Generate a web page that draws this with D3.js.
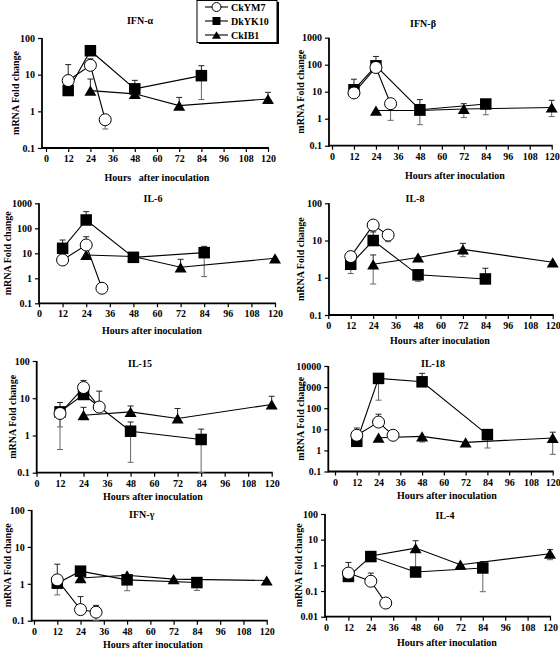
<!DOCTYPE html>
<html><head><meta charset="utf-8">
<script src="https://cdn.jsdelivr.net/npm/d3@7"></script>
<style>
html,body{margin:0;padding:0;background:#fff;}
svg text{font-family:"Liberation Serif","Times New Roman",serif;font-weight:bold;fill:#000;}
</style></head>
<body>
<svg id="c" width="560" height="648"></svg>
<script>
// ---------------- DATA ----------------
const panelTitles = ["IFN-α","IFN-β","IL-6","IL-8","IL-15","IL-18","IFN-γ","IL-4"];
const seriesNames = ["CkYM7","DkYK10","CkIB1"];
const xTicks = [0,12,24,36,48,60,72,84,96,108,120];
const yDomains = [[0.1,100],[0.1,1000],[0.1,1000],[0.1,100],[0.1,100],[0.1,10000],[0.1,100],[0.01,100]];
const yTickLabels = [["0.1","1","10","100"],["0.1","1","10","100","1000"],["0.1","1","10","100","1000"],
  ["0.1","1","10","100"],["0.1","1","10","100"],["0.1","1","10","100","1000","10000"],
  ["0.1","1","10","100"],["0.01","0.1","1","10","100"]];
const xLabelText = ["Hours   after inoculation","Hours after inoculation","Hours after inoculation","Hours after inoculation",
  "Hours after inoculation","Hours after inoculation","Hours after inoculation","Hours after inoculation"];

const ckym7Hours = [12,24,32];
const dkyk10Hours = [12,24,48,84];
const ckib1Hours = [24,48,72,120];

const ckym7Values = [[6.9,18,0.59],[9,79,3.6],[5.4,21.5,0.4],[3.7,26,14],[3.9,19.4,5.8],[5.2,22,5.2],[1.28,0.2,0.17],[0.5,0.24,0.034]];
const ckym7ErrHi  = [[18.8,27,null],[null,null,null],[null,46,null],[null,null,null],[null,30,15.5],[11.5,52,null],[3.4,0.45,0.26],[1.3,0.5,null]];
const ckym7ErrLo  = [[null,null,0.33],[null,null,0.87],[null,null,null],[null,null,9.3],[0.42,null,null],[null,null,null],[null,null,0.094],[null,null,null]];

const dkyk10Values = [[3.7,45,4.1,9.4],[11.8,91,2.15,3.5],[15.8,215,6.9,10.6],[2.3,10,1.2,0.93],[4.3,12.6,1.3,0.78],[2.7,2580,1780,5.6],[1.04,2.2,1.28,1.08],[0.37,2.2,0.55,0.79]];
const dkyk10ErrHi  = [[null,null,7.0,17.6],[29,202,5.1,null],[34,464,null,19],[null,17,null,1.8],[7.7,null,2.3,1.48],[null,null,4500,null],[null,null,null,null],[null,null,null,1.4]];
const dkyk10ErrLo  = [[null,null,null,2.1],[null,null,0.6,1.4],[null,null,5.7,1.17],[1.3,null,0.8,null],[1.7,null,0.19,0.1],[null,240,null,1.3],[0.5,null,0.65,0.66],[null,null,null,0.094]];

const ckib1Values = [[3.66,3.0,1.43,2.17],[2.0,2.0,2.3,2.6],[8.6,7.4,2.75,6.3],[2.3,3.5,5.8,2.6],[3.5,4.3,2.86,6.8],[4.0,4.6,2.4,3.9],[1.43,1.7,1.34,1.23],[2.3,4.7,1.06,2.85]];
const ckib1ErrHi  = [[7.6,null,2.4,3.3],[null,null,3.6,4.8],[null,null,5.75,null],[4.1,null,8.4,null],[5.7,6.2,5.3,11.3],[null,null,null,7.3],[null,null,null,null],[null,9.1,null,4.1]];
const ckib1ErrLo  = [[null,null,null,null],[null,null,1.1,1.2],[null,null,null,null],[0.68,null,3.7,null],[null,null,null,null],[null,2.5,null,0.65],[null,null,null,null],[null,0.55,null,1.66]];

// ---------------- LAYOUT ----------------
const layout = [
  {ax:42, x0:46, x1:268, yt:38, yb:148, tx:140, ty:20, lx:157, ly:177, yl:15},
  {ax:329, x0:332, x1:551.7, yt:37.7, yb:145.7, tx:423, ty:23, lx:455, ly:175, yl:300},
  {ax:39, x0:39, x1:275, yt:203.3, yb:303.3, tx:153, ty:198, lx:152, ly:330, yl:7},
  {ax:329, x0:328.3, x1:552.7, yt:203.3, yb:315, tx:415, ty:198, lx:440, ly:340, yl:300},
  {ax:36.7, x0:36.5, x1:271.7, yt:361, yb:472.7, tx:140, ty:363, lx:153, ly:496, yl:12},
  {ax:328.3, x0:335, x1:552.7, yt:366, yb:471.5, tx:433, ty:363, lx:447, ly:495, yl:300},
  {ax:31.7, x0:34, x1:266.7, yt:510, yb:620.7, tx:141.7, ty:514, lx:153, ly:644, yl:7},
  {ax:325, x0:326, x1:550, yt:514, yb:616.7, tx:445, ty:515, lx:447, ly:642, yl:298}
];

const svg = d3.select("#c");

function marker(g, type, cx, cy, s) {
  if (type === 0) {
    g.append("circle").attr("cx",cx).attr("cy",cy).attr("r",s/2)
      .attr("fill","#fff").attr("stroke","#000").attr("stroke-width",1);
  } else if (type === 1) {
    g.append("rect").attr("x",cx-s/2).attr("y",cy-s/2).attr("width",s).attr("height",s)
      .attr("fill","#000");
  } else {
    const h = s*0.85;
    g.append("path").attr("d",`M${cx-s/2},${cy+h/2}L${cx+s/2},${cy+h/2}L${cx},${cy-h/2}Z`).attr("fill","#000");
  }
}

const seriesHours = [ckym7Hours, dkyk10Hours, ckib1Hours];
const seriesVals = [ckym7Values, dkyk10Values, ckib1Values];
const seriesHi = [ckym7ErrHi, dkyk10ErrHi, ckib1ErrHi];
const seriesLo = [ckym7ErrLo, dkyk10ErrLo, ckib1ErrLo];
const drawOrder = [1,2,0];

layout.forEach((L, p) => {
  const g = svg.append("g");
  const x = d3.scaleLinear().domain([0,120]).range([L.x0, L.x1]);
  const y = d3.scaleLog().domain(yDomains[p]).range([L.yb, L.yt]);

  // x axis
  const xa = g.append("g").attr("transform",`translate(0,${L.yb})`)
    .call(d3.axisBottom(x).tickValues(xTicks).tickSize(4).tickSizeOuter(0));
  xa.select(".domain").remove();
  xa.selectAll("line").attr("stroke","#000").attr("stroke-width",1.2);
  xa.selectAll("text").attr("font-size",10).attr("font-family",null);
  g.append("line").attr("x1",L.ax).attr("x2",x(120)+1).attr("y1",L.yb).attr("y2",L.yb)
    .attr("stroke","#000").attr("stroke-width",1.8);

  // y axis
  const yTickVals = yTickLabels[p].map(Number);
  const ya = g.append("g").attr("transform",`translate(${L.ax},0)`)
    .call(d3.axisLeft(y).tickValues(yTickVals).tickSize(4).tickSizeOuter(0)
      .tickFormat((d,i) => yTickLabels[p][i]));
  ya.select(".domain").remove();
  ya.selectAll("line").attr("stroke","#000").attr("stroke-width",1.2);
  ya.selectAll("text").attr("font-size",10).attr("font-family",null);
  g.append("line").attr("x1",L.ax).attr("x2",L.ax).attr("y1",L.yt).attr("y2",L.yb+1)
    .attr("stroke","#000").attr("stroke-width",1.8);

  // titles
  g.append("text").attr("x",L.tx).attr("y",L.ty+3.5).attr("text-anchor","middle")
    .attr("font-size",10).text(panelTitles[p]);
  g.append("text").attr("x",L.lx).attr("y",L.ly+3.5).attr("text-anchor","middle")
    .attr("font-size",10).style("white-space","pre").text(xLabelText[p]);
  g.append("text").attr("transform",`translate(${L.yl+3.5},${(L.yt+L.yb)/2}) rotate(-90)`)
    .attr("text-anchor","middle").attr("font-size",10).text("mRNA Fold change");

  // error bars
  [0,1,2].forEach(s => {
    const hrs = seriesHours[s], vals = seriesVals[s][p];
    hrs.forEach((h,i) => {
      const v = vals[i];
      [seriesHi[s][p][i], seriesLo[s][p][i]].forEach((e, k) => {
        if (e == null) return;
        const ey = y(Math.max(e, yDomains[p][0]));
        g.append("line").attr("x1",x(h)).attr("x2",x(h)).attr("y1",y(v)).attr("y2",ey)
          .attr("stroke", k===0 ? "#222" : "#666").attr("stroke-width",1);
        g.append("line").attr("x1",x(h)-3).attr("x2",x(h)+3).attr("y1",ey).attr("y2",ey)
          .attr("stroke", k===0 ? "#222" : "#666").attr("stroke-width",1);
      });
    });
  });

  // lines
  [0,1,2].forEach(s => {
    const pts = seriesHours[s].map((h,i) => [x(h), y(seriesVals[s][p][i])]);
    g.append("path").attr("d", d3.line()(pts)).attr("fill","none")
      .attr("stroke","#000").attr("stroke-width",1.1);
  });

  // markers
  drawOrder.forEach(s => {
    seriesHours[s].forEach((h,i) => {
      marker(g, s, x(h), y(seriesVals[s][p][i]), s===1 ? 11.5 : 12);
    });
  });
});

// legend
const lg = svg.append("g");
lg.append("rect").attr("x",199).attr("y",2).attr("width",80).attr("height",42).attr("fill","#000");
lg.append("rect").attr("x",197).attr("y",0.5).attr("width",80).attr("height",42)
  .attr("fill","#fff").attr("stroke","#000").attr("stroke-width",1);
const legY = [7,21,35];
seriesNames.forEach((n,i) => {
  lg.append("line").attr("x1",205).attr("x2",228).attr("y1",legY[i]).attr("y2",legY[i])
    .attr("stroke","#000").attr("stroke-width",1.1);
  marker(lg, i, 216.5, legY[i], i===1 ? 8 : 9);
  lg.append("text").attr("x",231).attr("y",legY[i]+3.5).attr("font-size",10).text(n);
});
</script>
</body></html>
